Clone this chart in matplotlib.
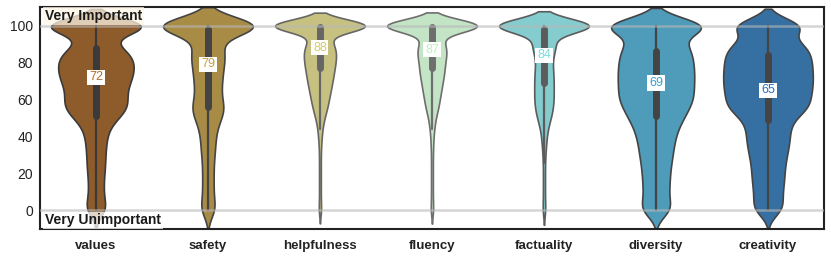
import numpy as np
import matplotlib
matplotlib.use('Agg')
import matplotlib.pyplot as plt

plt.rcParams['font.family'] = ['Liberation Sans', 'DejaVu Sans']

aspects = ['values', 'safety', 'helpfulness', 'fluency', 'factuality', 'diversity', 'creativity']

# number of answers per score (score bins 0, 5, ..., 100)
scores = np.arange(0, 101, 5)
values_counts = [30, 20, 18, 18, 20, 22, 22, 24, 26, 32, 52, 78, 74, 71, 83, 90, 90, 85, 44, 28, 215]
safety_counts = [22, 12, 12, 12, 12, 12, 14, 16, 16, 20, 28, 40, 28, 28, 30, 32, 34, 40, 28, 18, 220]
helpfulness_counts = [5, 3, 3, 3, 3, 3, 3, 4, 6, 9, 15, 24, 30, 36, 42, 47, 52, 55, 48, 20, 250]
fluency_counts = [5, 3, 3, 3, 3, 3, 3, 4, 5, 8, 12, 20, 25, 30, 35, 40, 42, 48, 45, 20, 245]
factuality_counts = [5, 3, 3, 3, 3, 3, 4, 6, 8, 12, 20, 26, 28, 28, 28, 27, 24, 28, 40, 16, 240]
diversity_counts = [44, 26, 28, 29, 30, 32, 36, 38, 42, 48, 60, 70, 82, 80, 82, 82, 80, 78, 70, 35, 195]
creativity_counts = [35, 28, 29, 32, 33, 34, 38, 42, 44, 44, 52, 85, 84, 88, 90, 89, 88, 85, 78, 25, 115]
all_counts = [values_counts, safety_counts, helpfulness_counts, fluency_counts,
              factuality_counts, diversity_counts, creativity_counts]

mean_labels = [72, 79, 88, 87, 84, 69, 65]
q1 = [51, 56, 77, 77, 69, 51, 49]
q3 = [88, 98, 99, 99, 98, 86, 84]

fill_colors = ['#8e5b2b', '#a88c46', '#c6c180', '#c4e4c6', '#85ccce', '#4e9bba', '#3670a2']
text_colors = ['#b86a24', '#c8a03c', '#d6cc60', '#bef0be', '#78dcdc', '#32a0d2', '#286ebe']
line_grays = ['#3a3a3a', '#444444', '#666666', '#6e6e6e', '#5c5c5c', '#444444', '#444444']

bw_factor = 0.165

fig, ax = plt.subplots(figsize=(8.31, 2.62), dpi=100)
fig.subplots_adjust(left=0.048, right=0.9916, top=0.973, bottom=0.126)

for i, c in enumerate(all_counts):
    w = np.array(c, dtype=float)
    m = np.average(scores, weights=w)
    sd = np.sqrt(np.average((scores - m) ** 2, weights=w))
    bw = bw_factor * sd
    grid = np.linspace(scores.min() - 2 * bw, scores.max() + 2 * bw, 500)
    dens = (w[None, :] * np.exp(-0.5 * ((grid[:, None] - scores[None, :]) / bw) ** 2)).sum(1)
    half = 0.4 * dens / dens.max()
    ax.fill_betweenx(grid, i - half, i + half, facecolor=fill_colors[i],
                     edgecolor=line_grays[i], lw=1.2, zorder=2)
    iqr = q3[i] - q1[i]
    lo = max(q1[i] - 1.5 * iqr, 0)
    hi = min(q3[i] + 1.5 * iqr, 100)
    ax.plot([i, i], [lo, hi], color=line_grays[i], lw=1.6, solid_capstyle='round', zorder=3)
    ax.plot([i, i], [q1[i], q3[i]], color=line_grays[i], lw=5, solid_capstyle='round', zorder=3)
    ax.text(i, mean_labels[i], str(mean_labels[i]), color=text_colors[i], ha='center', va='center',
            fontsize=9, zorder=5, bbox=dict(facecolor='white', edgecolor='none', pad=1.2))

ax.axhline(100, color='#b8b8b8', lw=1.8, alpha=0.6, zorder=4)
ax.axhline(0, color='#b8b8b8', lw=1.8, alpha=0.6, zorder=4)

ax.text(-0.455, 105.2, 'Very Important', fontsize=10, fontweight='bold', color='#1a1a1a',
        ha='left', va='center', zorder=6,
        bbox=dict(facecolor='oldlace', alpha=0.75, edgecolor='none', pad=1.4))
ax.text(-0.455, -5.4, 'Very Unimportant', fontsize=10, fontweight='bold', color='#1a1a1a',
        ha='left', va='center', zorder=6,
        bbox=dict(facecolor='white', alpha=0.75, edgecolor='none', pad=1.4))

ax.set_xlim(-0.5, 6.5)
ax.set_ylim(-10, 110)
ax.set_xticks(range(len(aspects)))
ax.set_xticklabels(aspects, fontweight='bold', fontsize=9.5, color='#222222')
ax.set_yticks([0, 20, 40, 60, 80, 100])
ax.tick_params(axis='both', length=0)
ax.tick_params(axis='x', pad=8)
ax.tick_params(axis='y', pad=5, labelsize=10, labelcolor='#222222')
for s in ax.spines.values():
    s.set_linewidth(1.5)
    s.set_color('#222222')

plt.savefig('out.png', dpi=100)
